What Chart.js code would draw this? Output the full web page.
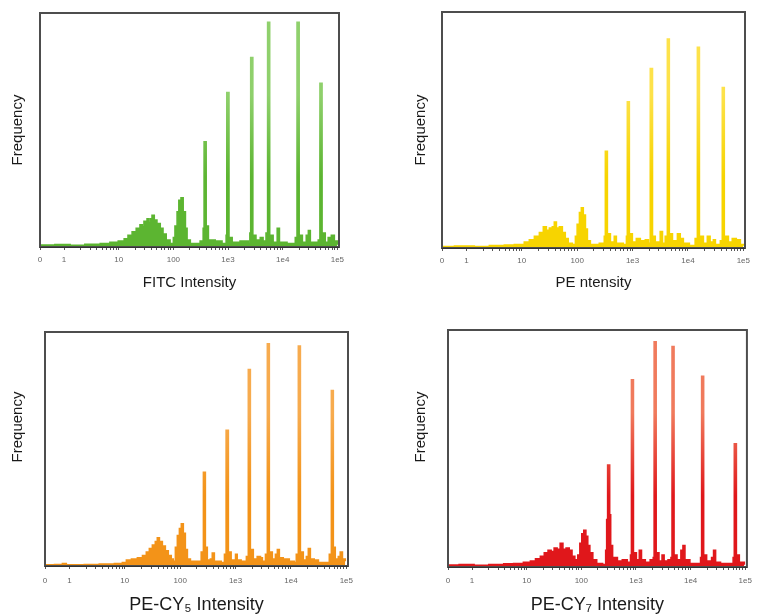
<!DOCTYPE html>
<html>
<head>
<meta charset="utf-8">
<script src="https://cdn.jsdelivr.net/npm/chart.js@4/dist/chart.umd.min.js"></script>
<style>
  html, body { margin: 0; padding: 0; background: #fff; }
  #wrap { position: relative; width: 758px; height: 616px; }
  .panel { position: absolute; width: 379px; height: 308px; }
</style>
</head>
<body>
<div id="wrap">
  <div class="panel" style="left:0;top:0"><canvas id="c1" width="379" height="308"></canvas></div>
  <div class="panel" style="left:379px;top:0"><canvas id="c2" width="379" height="308"></canvas></div>
  <div class="panel" style="left:0;top:308px"><canvas id="c3" width="379" height="308"></canvas></div>
  <div class="panel" style="left:379px;top:308px"><canvas id="c4" width="379" height="308"></canvas></div>
</div>
<script>
// ---- axis ticks ----
const tickValues = [0, 1, 10, 100, 1000, 10000, 100000];
const tickLabels = ['0', '1', '10', '100', '1e3', '1e4', '1e5'];

// ---- FITC ----
const fitcIntensity = [0,0.68,1.29,2.4,4.6,6.9,9.8,12.6,14.8,17.6,20.9,24.5,27,29,31,33,35,37.6,40.7,44.7,50,57.5,64.6,74,87,100,107,117,126,138,151,166,178,204,309,351,365,398,437,582,776,923,950,1040,1190,1660,2340,2510,2600,2840,3240,3890,4370,4960,5300,5780,6680,7940,8710,12000,17000,18300,20000,22900,27000,29500,32000,44700,48000,52500,60000,68000,77600,88000,100000];
const fitcFrequency = [0.8,1.0,0.7,1.2,1.5,2.0,2.5,3.5,5,6.5,8,9.5,8.5,11,9.5,12,10.5,12,13.5,11.5,10,8,5.5,3,1.5,4,9,15,20,21,15,8,3,1.5,2.5,8,45,9,3,2.5,1.5,5,66,4,2,2.5,1.5,6,81,5,3,4,2.5,6,96,5,2,8,2,1.5,4,96,5,2,5,7,2,3,70,6,2,4,5,2.5,1];

// ---- PE ----
const peIntensity = [0,0.61,1.39,2.6,4.85,7.35,11.1,13.7,16.9,20.8,24.5,27.8,31.5,35.6,38.7,42.2,47.7,54,61,69,82,93,100,110,119,129,141,153,173,251,309,323,351,398,468,510,680,776,805,875,991,1170,1380,1700,1930,2090,2290,2570,3160,3470,3890,4250,4610,5250,6460,7260,8260,10600,13500,14800,16100,19000,22400,25100,28800,31300,38500,41700,45300,53700,63100,74600,88300,100000];
const peFrequency = [0.6,0.8,0.6,1.0,1.2,1.5,2.5,3.5,5,6.5,9,7.5,8.5,9,11,8.5,9,6.5,4,2,1.5,5,10,15,17,14,8,3,1.5,2,5,41,6,2.5,5,2,1.5,5,62,6,2.5,4,3,3.5,2,76,5,2.5,7,2,5,88.5,6,3,6,4,2,1,4,85,5,2,5,2.5,3.5,1.5,3,68,5,2.5,4,3.5,1.5,1];

// ---- PE-CY5 ----
const pecy5Intensity = [0,0.54,0.75,0.88,1.86,3.47,6.5,9.05,10.7,13.2,16.9,20.9,24.5,27.8,31.5,35.6,38.7,42.2,47.7,54,61,69,75,82,89,97,105,114,124,135,153,204,240,263,285,309,351,380,414,550,631,676,741,832,1000,1070,1260,1570,1700,1850,2090,2460,2820,3050,3470,3750,4070,4610,5250,5690,6170,7260,9330,11500,12500,13600,14800,16700,19000,20600,22400,26300,31300,40100,49300,53700,58200,63100,71700,77600,85000,95600];
const pecy5Frequency = [0.5,0.6,1,0.5,0.6,0.8,1,1.5,2.5,3,3.5,4.5,6,7.5,9,10.5,12,10.5,8.5,6.5,4.5,3,2,8,13,16,18,14,7,3,2,2,6,40,8,2.5,3,5.5,2,1.5,5,58,6,2.5,5,2.5,2,4,84,7,3,4,3.5,2,5,95,6,3,5,7,3.5,3,2,1.5,5,94,6,2.5,4,7.5,3,2.5,1.5,1.5,5,75,8,3,4,6,3,2];

// ---- PE-CY7 ----
const pecy7Intensity = [0,0.58,1.09,2.03,3.8,5.76,8.7,11.7,14.5,17.8,21,24.6,28,31.8,36,41,46,52.6,60,67.5,76,86,94,102,111,121,131,143,162,191,245,279,291,303,330,344,373,457,562,692,794,826,898,1016,1150,1260,1480,1820,2070,2150,2340,2630,3000,3270,3860,4370,4570,4970,5630,6640,7240,7860,9680,12900,15200,15900,17300,19600,24200,26300,28600,35200,51000,60000,63000,68700,77700,96000];
const pecy7Frequency = [0.8,1,0.7,1,1.3,1.5,2,2.5,3.5,4.5,6,7,6.5,8,7.5,10,7.5,8,7,4.5,3,5,10,14,15.5,13,9,6,3,1.5,1,7,20,43,22,9,4,2.5,3,2,5,79,6,3,7,3,2,3,4,95,6,2.5,5,2.5,3,4,93,5,3,7,9,3,1.5,1.5,4,80.5,5,2.5,4,7,2,1.5,1.5,4,52,5,2,1];

const ZERO_POS = -0.44;   // where intensity 0 sits on the decade axis
const X_MAX = 5.03;
function pos(v) { return v <= 0 ? ZERO_POS : Math.log10(v); }

const FONT = "'Liberation Sans', Arial, 'DejaVu Sans', sans-serif";

const framePlugin = {
  id: 'frame',
  afterDraw(chart) {
    const a = chart.chartArea, ctx = chart.ctx;
    ctx.save();
    ctx.strokeStyle = '#4d4d4d';
    ctx.lineWidth = 2;
    ctx.strokeRect(a.left, a.top, a.right - a.left, a.bottom - a.top);
    ctx.beginPath();
    ctx.lineWidth = 1;
    ctx.strokeStyle = '#333';
    ctx.moveTo(a.left, a.bottom + 0.5); ctx.lineTo(a.right, a.bottom + 0.5);
    ctx.stroke();
    const o = chart.options.plugins.frame;
    ctx.translate(o.yTitleX, o.yTitleY);
    ctx.rotate(-Math.PI / 2);
    ctx.fillStyle = '#1a1a1a';
    ctx.font = '15px ' + FONT;
    ctx.textAlign = 'center';
    ctx.textBaseline = 'middle';
    ctx.fillText('Frequency', 0, 0);
    ctx.restore();
  }
};

function makeChart(id, p) {
  const majorPos = tickValues.map(pos);
  const minorPos = [];
  for (let d = 0; d < 5; d++) for (let k = 2; k <= 9; k++) minorPos.push(d + Math.log10(k));
  const allTicks = majorPos.concat(minorPos).sort((a, b) => a - b);

  const fillFn = (ctx) => {
    const a = ctx.chart.chartArea;
    if (!a) return p.color;
    const g = ctx.chart.ctx.createLinearGradient(0, a.bottom, 0, a.top);
    g.addColorStop(0, p.color);
    g.addColorStop(0.3, p.color);
    g.addColorStop(0.65, p.light);
    g.addColorStop(1, p.light);
    return g;
  };

  new Chart(document.getElementById(id), {
    type: 'line',
    data: {
      datasets: [{
        data: p.intensity.map((v, i) => ({ x: pos(v), y: p.frequency[i] })),
        stepped: true,
        fill: 'origin',
        backgroundColor: fillFn,
        borderColor: fillFn,
        borderWidth: 1.6,
        pointRadius: 0,
        tension: 0
      }]
    },
    options: {
      responsive: false,
      animation: false,
      layout: { padding: { left: p.left, top: p.top, right: 379 - p.right, bottom: 0 } },
      plugins: {
        legend: { display: false },
        tooltip: { enabled: false },
        frame: { yTitleX: p.yTitleX, yTitleY: p.yTitleY }
      },
      scales: {
        x: {
          type: 'linear',
          min: ZERO_POS,
          max: X_MAX,
          afterFit: (s) => { s.height = 308 - p.bottom; },
          afterBuildTicks: (s) => { s.ticks = allTicks.map(v => ({ value: v })); },
          border: { display: false },
          grid: { display: true, drawOnChartArea: false, drawTicks: true, tickLength: 3, color: '#555', tickColor: '#555' },
          ticks: {
            autoSkip: false,
            maxRotation: 0,
            padding: p.tickPad,
            color: '#666',
            font: { size: 8, family: FONT },
            callback: (value) => {
              const i = majorPos.findIndex(m => Math.abs(m - value) < 1e-9);
              return i >= 0 ? tickLabels[i] : '';
            }
          },
          title: {
            display: true,
            text: p.xTitle,
            color: '#1a1a1a',
            font: { size: p.titleSize, family: FONT },
            padding: { top: 0, bottom: p.titlePad }
          }
        },
        y: { display: false, min: 0, max: 100 }
      }
    },
    plugins: [framePlugin]
  });
}

makeChart('c1', { intensity: fitcIntensity, frequency: fitcFrequency, color: '#5cb531', light: '#8fd06c',
  xTitle: 'FITC Intensity', titleSize: 15, titlePad: 16, tickPad: 5,
  left: 40, top: 13, right: 339, bottom: 247, yTitleX: 18, yTitleY: 130 });
makeChart('c2', { intensity: peIntensity, frequency: peFrequency, color: '#f7d400', light: '#fde24a',
  xTitle: 'PE ntensity', titleSize: 15, titlePad: 16, tickPad: 5,
  left: 63, top: 12, right: 366, bottom: 248, yTitleX: 42, yTitleY: 130 });
makeChart('c3', { intensity: pecy5Intensity, frequency: pecy5Frequency, color: '#f39318', light: '#f7ab4e',
  xTitle: 'PE-CY\u2085 Intensity', titleSize: 18, titlePad: 0, tickPad: 7,
  left: 45, top: 24, right: 348, bottom: 258, yTitleX: 18, yTitleY: 119 });
makeChart('c4', { intensity: pecy7Intensity, frequency: pecy7Frequency, color: '#e0171b', light: '#f07a5c',
  xTitle: 'PE-CY\u2087 Intensity', titleSize: 18, titlePad: 0, tickPad: 6,
  left: 69, top: 22, right: 371, bottom: 259, yTitleX: 42, yTitleY: 119 });
</script>
</body>
</html>
